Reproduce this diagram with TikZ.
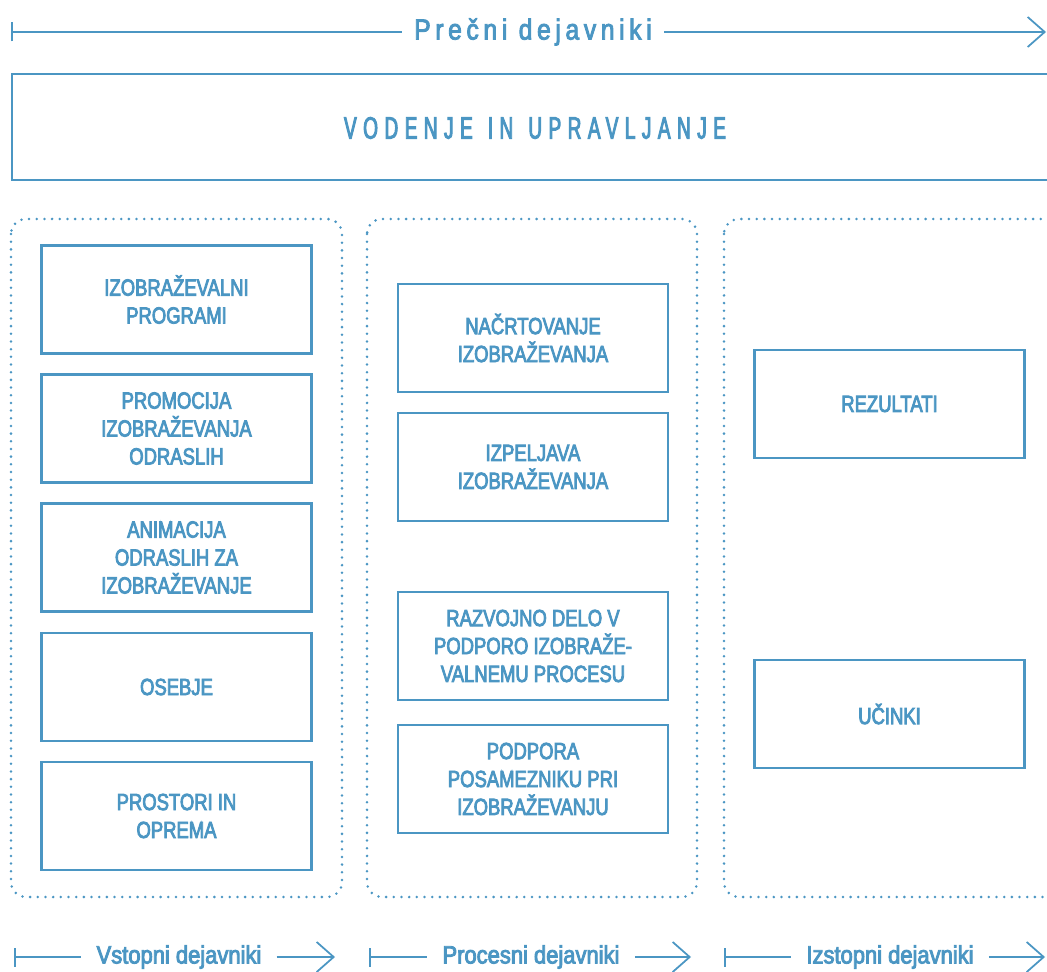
\documentclass[tikz,border=0pt]{standalone}
\usepackage{fontspec}
\setmainfont{Liberation Sans}[FakeStretch=0.79,FakeBold=3.5]
\newfontfamily\labelfont{Liberation Sans}[FakeStretch=0.88,FakeBold=3.5]
\newfontfamily\titlefont{Liberation Sans}[FakeStretch=0.85,FakeBold=3,LetterSpace=16]
\newfontfamily\bannerfont{Liberation Sans}[FakeStretch=0.62,FakeBold=3,LetterSpace=21]
\usetikzlibrary{arrows.meta}
\definecolor{dblue}{HTML}{4B96C3}

\begin{document}
\begin{tikzpicture}[x=0.02cm, y=-0.02cm,
    factor/.style={draw=dblue, line width=1.25pt, minimum width=5.4cm, minimum height=2.16cm, align=center, text=dblue, font=\fontsize{13.3}{15.9}\selectfont},
    column/.style={draw=dblue, line width=1.6pt, line cap=round, dash pattern=on 0pt off 4.37pt, rounded corners=0.3cm},
    flow/.style={dblue, line width=1pt},
    lab/.style={text=dblue, inner xsep=0.3cm, font=\labelfont\fontsize{14.2}{16}\selectfont},
    headend/.style={-{Straight Barb[length=0.34cm, width=0.6cm]}},
    barend/.style={{Bar[width=0.38cm]}-}]
    \useasboundingbox (0,0) rectangle (1047,972);

    % crossing factors
    \coordinate (t0) at (11,32);
    \coordinate (t1) at (1046,32);
    \node[lab, font=\titlefont\fontsize{16.5}{18}\selectfont, inner xsep=0.24cm] (title) at (533,32) {Prečni dejavniki};
    \draw[flow, barend] (t0) -- (title);
    \draw[flow, headend] (title) -- (t1);

    \draw[dblue, line width=1.25pt] (12,74) rectangle (1070,180);
    \node[text=dblue, font=\bannerfont\fontsize{17.5}{20}\selectfont] (lead) at (535,128) {VODENJE\hspace{0.3cm}IN\hspace{0.3cm}UPRAVLJANJE};

    % three groups
    \draw[column] (11,219) rectangle (342,897);
    \draw[column] (367,219) rectangle (697,897);
    \draw[column] (724,219) rectangle (1070,897);

    \node[factor] (prog) at (176.5,299.5) {IZOBRAŽEVALNI\\PROGRAMI};
    \node[factor] (prom) at (176.5,428.5) {PROMOCIJA\\IZOBRAŽEVANJA\\ODRASLIH};
    \node[factor] (anim) at (176.5,557.5) {ANIMACIJA\\ODRASLIH ZA\\IZOBRAŽEVANJE};
    \node[factor] (oseb) at (176.5,687) {OSEBJE};
    \node[factor] (pros) at (176.5,816) {PROSTORI IN\\OPREMA};

    \node[factor] (nacr) at (533,338) {NAČRTOVANJE\\IZOBRAŽEVANJA};
    \node[factor] (izpe) at (533,467) {IZPELJAVA\\IZOBRAŽEVANJA};
    \node[factor] (razv) at (533,646) {RAZVOJNO DELO V\\PODPORO IZOBRAŽE-\\VALNEMU PROCESU};
    \node[factor] (podp) at (533,779) {PODPORA\\POSAMEZNIKU PRI\\IZOBRAŽEVANJU};

    \node[factor] (rezu) at (889.5,404) {REZULTATI};
    \node[factor] (ucin) at (889.5,714) {UČINKI};

    % bottom axes
    \coordinate (v0) at (14,957);
    \coordinate (v1) at (335,957);
    \node[lab] (vsto) at (179,957) {Vstopni dejavniki};
    \draw[flow, barend] (v0) -- (vsto);
    \draw[flow, headend] (vsto) -- (v1);

    \coordinate (p0) at (369,957);
    \coordinate (p1) at (691,957);
    \node[lab] (proc) at (531,957) {Procesni dejavniki};
    \draw[flow, barend] (p0) -- (proc);
    \draw[flow, headend] (proc) -- (p1);

    \coordinate (i0) at (724,957);
    \coordinate (i1) at (1045,957);
    \node[lab] (izst) at (890,957) {Izstopni dejavniki};
    \draw[flow, barend] (i0) -- (izst);
    \draw[flow, headend] (izst) -- (i1);
\end{tikzpicture}
\end{document}
